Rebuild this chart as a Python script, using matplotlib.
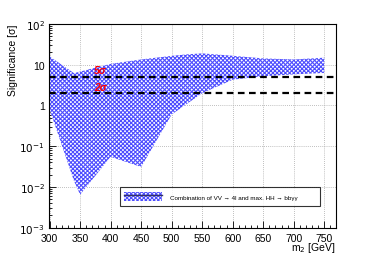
import matplotlib
matplotlib.use("Agg")
import matplotlib.pyplot as plt
from matplotlib.patches import Patch
from matplotlib.lines import Line2D
from matplotlib.ticker import MultipleLocator, FixedLocator, LogLocator, NullFormatter

plt.rcParams['font.family'] = ['Liberation Sans', 'DejaVu Sans']
plt.rcParams['hatch.linewidth'] = 0.8

# datos
masa = [300, 340, 350, 400, 450, 500, 525, 550, 600, 650, 700, 750]
sig_alto = [16, 6.2, 6.8, 10.5, 13.5, 16.5, 18, 19, 16.6, 14.3, 13.5, 14.9]
sig_bajo = [0.8, 0.014, 0.0065, 0.055, 0.031, 0.6, 1.1, 2.0, 4.3, 5.2, 5.8, 6.3]
niveles = [5, 2]
etiquetas_nivel = ["5σ", "2σ"]
ticks_y = [1e-3, 1e-2, 1e-1, 1, 10, 100]
labels_y = ["$10^{-3}$", "$10^{-2}$", "$10^{-1}$", "1", "10", "$10^{2}$"]
texto_leyenda = "Combination of VV → 4l and max. HH → bbγγ"

fig = plt.figure(figsize=(3.74, 2.55), dpi=100)
ax = fig.add_axes([0.131, 0.103, 0.767, 0.799])

azul = (0.3, 0.3, 1.0)
trama = 'x' * 8
ax.fill_between(masa, sig_bajo, sig_alto, facecolor='white', edgecolor=azul,
                hatch=trama, linewidth=0, zorder=2)

for nivel, txt in zip(niveles, etiquetas_nivel):
    ax.axhline(nivel, color='black', linestyle=(0, (3, 2)), linewidth=1.6, zorder=3)
    ax.text(383, nivel * 1.1, txt, color='red', fontsize=7.5, fontstyle='italic',
            fontweight='bold', ha='center', va='bottom', zorder=4)

ax.set_yscale('log')
ax.set_xlim(299, 769)
ax.set_ylim(1e-3, 1e2)

ax.xaxis.set_major_locator(MultipleLocator(50))
ax.xaxis.set_minor_locator(MultipleLocator(10))
ax.yaxis.set_major_locator(FixedLocator(ticks_y))
ax.set_yticklabels(labels_y)
ax.yaxis.set_minor_locator(LogLocator(base=10, subs=range(2, 10), numticks=20))
ax.yaxis.set_minor_formatter(NullFormatter())

ax.tick_params(which='both', direction='in', labelsize=7.5, width=0.6, color='black')
ax.tick_params(which='major', length=5)
ax.tick_params(which='minor', length=2.5)
ax.tick_params(axis='x', pad=4)
ax.tick_params(axis='y', pad=3)

ax.grid(True, which='major', color='#aaaaaa', linestyle=(0, (1, 1.5)), linewidth=0.6, zorder=1)
ax.set_axisbelow(True)
for s in ax.spines.values():
    s.set_linewidth(0.8)

ax.set_ylabel("Significance [σ]", fontsize=7.5, loc='top', labelpad=1)
ax.set_xlabel("m$_2$ [GeV]", fontsize=7.5, ha='right')
ax.xaxis.set_label_coords(1.0, -0.062)
ax.xaxis.label.set_va('top')

mano = (Patch(facecolor='white', edgecolor=azul, hatch=trama, linewidth=0),
        Line2D([], [], color='#333366', linewidth=1.0))
leg = ax.legend([mano], [texto_leyenda], loc='lower left',
                bbox_to_anchor=(0.236, 0.092, 0.72, 0.103), mode='expand',
                fontsize=4.5, frameon=True, fancybox=False, handlelength=6.0,
                handleheight=2.0, borderpad=0.7, handletextpad=1.4)
leg.get_frame().set_edgecolor('black')
leg.get_frame().set_linewidth(0.8)
leg.set_zorder(5)

plt.savefig("out.png", dpi=100)
plt.close()
